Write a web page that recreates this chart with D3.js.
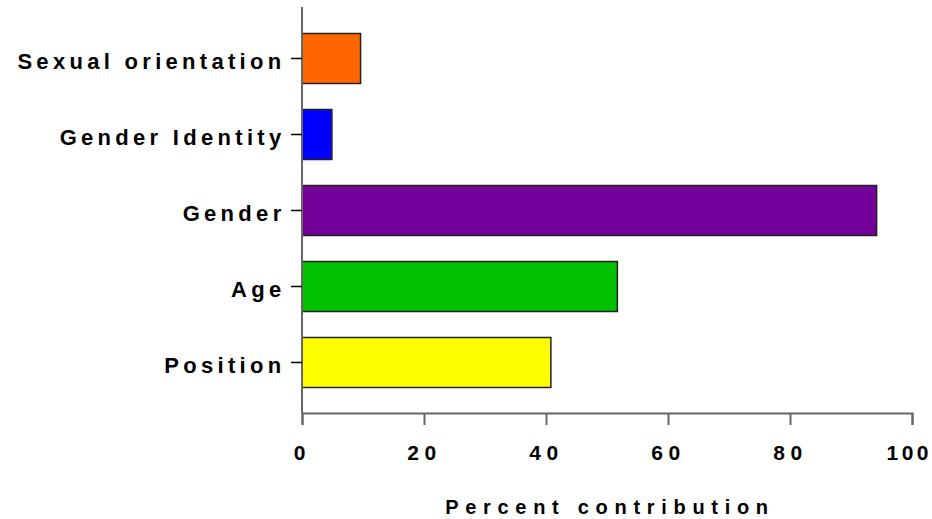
<!DOCTYPE html>
<html><head><meta charset="utf-8">
<script src="https://cdn.jsdelivr.net/npm/d3@7"></script>
<style>body{margin:0;background:#fff}svg{display:block}text{font-family:"Liberation Sans",Arial,sans-serif;font-weight:bold;fill:#000}</style>
</head><body>
<svg id="c" width="932" height="519"></svg>
<script>
const categories = ["Sexual orientation","Gender Identity","Gender","Age","Position"];
const values = [9.6, 4.9, 94.2, 51.7, 40.8];
const colors = ["#ff6600","#0000ff","#730099","#00c000","#ffff00"];
const xTicks = [0,20,40,60,80,100];
const xTitle = "Percent contribution";

(function(){
const svg = d3.select("#c");
const mLeft = 302, mRight = 912, mBottom = 413;
const x = d3.scaleLinear().domain([0,100]).range([mLeft,mRight]);
const yb = d3.scaleBand().domain(categories).range([20.5, 400.5])
  .paddingInner(26/76).paddingOuter(13/76);

svg.selectAll("rect.bar").data(categories).join("rect").attr("class","bar")
  .attr("x", x(0)).attr("y", d=>yb(d))
  .attr("width", (d,i)=>x(values[i])-x(0)).attr("height",yb.bandwidth())
  .attr("fill",(d,i)=>colors[i]).attr("stroke","#222").attr("stroke-width",1.5);

const xa = svg.append("g").attr("transform",`translate(0,${mBottom})`)
  .call(d3.axisBottom(x).tickValues(xTicks).tickSize(12).tickPadding(20).tickFormat(d3.format("d")));
xa.select(".domain").attr("stroke","#666").attr("stroke-width",2);
xa.selectAll(".tick line").attr("stroke","#666").attr("stroke-width",2);
xa.selectAll("text").attr("font-size",21).attr("letter-spacing","5.6px").attr("font-family",null);
xa.selectAll(".tick").filter(d=>d===100).select("text")
  .attr("text-anchor","end").attr("x",19.5).attr("letter-spacing","3.5px");

const ya = svg.append("g").attr("transform",`translate(${mLeft},0)`)
  .call(d3.axisLeft(yb).tickSize(11).tickPadding(5.5).tickSizeOuter(0));
ya.select(".domain").attr("stroke","#666").attr("stroke-width",2).attr("d",`M0,7V${mBottom}`);
ya.selectAll(".tick line").attr("stroke","#000").attr("stroke-width",1.5);
ya.selectAll("text").attr("font-size",22).attr("letter-spacing","4.3px").attr("font-family",null).attr("dy","0.48em");

svg.append("text").attr("x",(mLeft+mRight)/2 + 3).attr("y",514.3).attr("text-anchor","middle")
  .attr("font-size",20).attr("letter-spacing","6.7px").text(xTitle);
})();
</script></body></html>
